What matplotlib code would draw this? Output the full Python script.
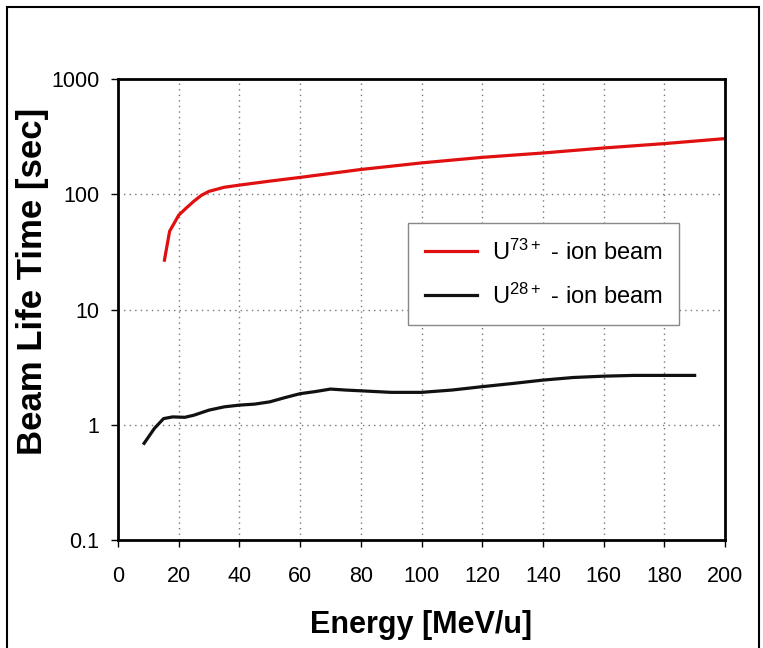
import matplotlib
matplotlib.use("Agg")
import matplotlib.pyplot as plt
from matplotlib.patches import Rectangle

plt.rcParams['font.family'] = ['Liberation Sans', 'DejaVu Sans']
plt.rcParams['mathtext.default'] = 'regular'

# U73+ ion beam (red)
energy_u73 = [15.3, 17, 20, 22.5, 25, 27.5, 30, 35, 40, 50, 60, 80, 100, 120, 140, 160, 180, 200]
life_u73 = [26.8, 47.7, 65.8, 76, 87, 98, 106, 115, 120, 130, 140, 164, 187, 209, 228, 252, 275, 304]

# U28+ ion beam (black)
energy_u28 = [8.6, 12, 15, 18, 22, 25, 30, 35, 40, 45, 50, 55, 60, 65, 70, 75, 80, 90, 100,
              110, 120, 130, 140, 150, 160, 170, 180, 190]
life_u28 = [0.69, 0.93, 1.13, 1.17, 1.16, 1.21, 1.34, 1.43, 1.48, 1.51, 1.58, 1.72, 1.86, 1.94, 2.04,
            2.0, 1.97, 1.91, 1.91, 2.0, 2.14, 2.28, 2.44, 2.57, 2.64, 2.68, 2.68, 2.68]

x_ticks = [0, 20, 40, 60, 80, 100, 120, 140, 160, 180, 200]
y_ticks = [0.1, 1, 10, 100, 1000]
y_tick_labels = ['0.1', '1', '10', '100', '1000']

fig = plt.figure(figsize=(7.63, 6.48), dpi=100)
ax = fig.add_axes([118 / 763, 108 / 648, 607 / 763, 461 / 648])

# outer frame of the picture
fig.patches.append(Rectangle((7 / 763, -0.02), 752 / 763, 641 / 648 + 0.02,
                             transform=fig.transFigure, fill=False,
                             edgecolor='black', linewidth=1.5))

ax.plot(energy_u73, life_u73, color='#e01010', linewidth=2.3, label=r'U$^{73+}$ - ion beam')
ax.plot(energy_u28, life_u28, color='#111111', linewidth=2.3, label=r'U$^{28+}$ - ion beam')

ax.set_yscale('log')
ax.set_xlim(0, 200)
ax.set_ylim(0.1, 1000)
ax.set_xticks(x_ticks)
ax.set_yticks(y_ticks)
ax.set_yticklabels(y_tick_labels)
ax.minorticks_off()
ax.tick_params(axis='both', labelsize=15.5, direction='out', length=5, width=1)
ax.tick_params(axis='x', pad=14)
ax.tick_params(axis='y', pad=8.5)

ax.grid(True, color='#777777', linestyle=(0, (1, 3)), linewidth=1)
for s in ax.spines.values():
    s.set_linewidth(2)

ax.set_xlabel('Energy [MeV/u]', fontsize=22, fontweight='bold', labelpad=16)
ax.set_ylabel('Beam Life Time [sec]', fontsize=25, fontweight='bold')
ax.yaxis.set_label_coords(-0.113, 0.56)

leg = ax.legend(loc='upper left', bbox_to_anchor=(0.478, 0.688), borderaxespad=0,
                fontsize=17, handlelength=2.2, handletextpad=0.64, fancybox=False,
                framealpha=1, edgecolor='#888888', borderpad=0.7, labelspacing=0.8)
leg.get_frame().set_linewidth(1)

fig.savefig('out.png', dpi=100)
